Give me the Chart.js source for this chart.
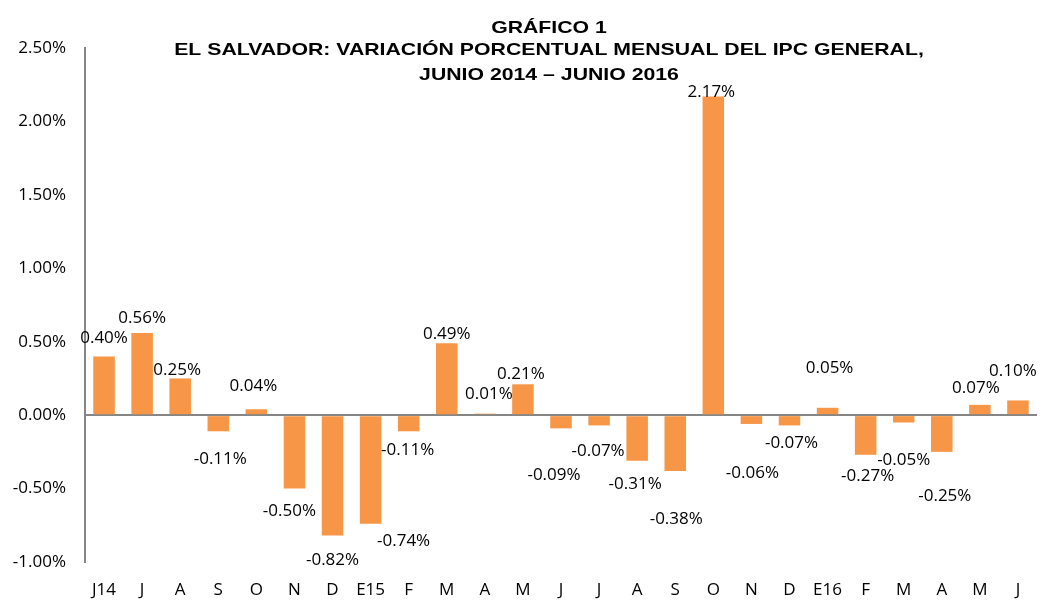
<!DOCTYPE html>
<html lang="es">
<head>
<meta charset="utf-8">
<title>Gráfico 1 - IPC El Salvador</title>
<script src="https://cdn.jsdelivr.net/npm/chart.js@4.4.1/dist/chart.umd.min.js"></script>
<style>
    html, body { margin: 0; padding: 0; background: #fff; }
    .chart-box { width: 1045px; height: 603px; position: relative; }
</style>
</head>
<body>
<div class="chart-box">
    <canvas id="ipcChart"></canvas>
</div>
<script>
// datos: variación mensual del IPC (%), junio 2014 - junio 2016
const meses = ['J14', 'J', 'A', 'S', 'O', 'N', 'D', 'E15', 'F', 'M', 'A', 'M', 'J',
    'J', 'A', 'S', 'O', 'N', 'D', 'E16', 'F', 'M', 'A', 'M', 'J'];
const variacion = [0.40, 0.56, 0.25, -0.11, 0.04, -0.50, -0.82, -0.74, -0.11, 0.49, 0.01, 0.21, -0.09,
    -0.07, -0.31, -0.38, 2.17, -0.06, -0.07, 0.05, -0.27, -0.05, -0.25, 0.07, 0.10];
const yTicks = [-1.0, -0.5, 0.0, 0.5, 1.0, 1.5, 2.0, 2.5];
const titulo = ['GRÁFICO 1',
    'EL SALVADOR: VARIACIÓN PORCENTUAL MENSUAL DEL IPC GENERAL,',
    'JUNIO 2014 – JUNIO 2016'];

// ajuste manual de las etiquetas (px desde el extremo de la barra), como en el original
const labelGap = [19, 16, 9, 27, 24, 22, 24, 16, 18, 10, 21, 11, 46,
    25, 22, 47, 5, 48, 17, 41, 20, 37, 43, 18, 30];
const labelShift = [0, 0, -3, 2, -3, -5, 0, 33, -1, 0, 4, -2, -7,
    -1, -2, 1, -2, 1, 2, 2, 2, 0, 3, -4, -5];

const fmtPct = (v) => v.toFixed(2) + '%';
const numFont = { family: "'Open Sans', sans-serif", size: 17 };

// etiquetas de datos
const barLabels = {
    id: 'barLabels',
    afterDatasetsDraw(chart) {
        const ctx = chart.ctx;
        const meta = chart.getDatasetMeta(0);
        ctx.save();
        ctx.font = "17px 'Open Sans', sans-serif";
        ctx.fillStyle = '#000';
        ctx.textAlign = 'center';
        ctx.textBaseline = 'middle';
        meta.data.forEach((bar, i) => {
            const v = variacion[i];
            const cy = v >= 0 ? bar.y - labelGap[i] : bar.y + labelGap[i];
            ctx.fillText(fmtPct(v), bar.x + labelShift[i], cy + 1);
        });
        ctx.restore();
    }
};

// título (Arial negrita ensanchado como en el original)
const tituloPlugin = {
    id: 'tituloPlugin',
    afterDraw(chart) {
        const ctx = chart.ctx;
        const baselines = [33, 55, 80];
        ctx.save();
        ctx.font = "bold 17px 'Liberation Sans', Arial, sans-serif";
        ctx.fillStyle = '#000';
        ctx.textAlign = 'center';
        ctx.textBaseline = 'alphabetic';
        titulo.forEach((linea, i) => {
            ctx.save();
            ctx.translate(549, baselines[i]);
            ctx.scale(1.25, 1);
            ctx.fillText(linea, 0, 0);
            ctx.restore();
        });
        ctx.restore();
    }
};

new Chart(document.getElementById('ipcChart'), {
    type: 'bar',
    data: {
        labels: meses,
        datasets: [{
            data: variacion,
            backgroundColor: '#F79646',
            borderWidth: 0,
            barPercentage: 0.565,
            categoryPercentage: 1.0
        }]
    },
    options: {
        responsive: true,
        maintainAspectRatio: false,
        animation: false,
        layout: { padding: { left: 11, right: 8, top: 48, bottom: 3 } },
        plugins: {
            legend: { display: false },
            tooltip: { enabled: false },
            title: { display: false }
        },
        scales: {
            x: {
                grid: { display: false, drawTicks: false },
                border: { display: false },
                ticks: { color: '#000', font: numFont, padding: 18, maxRotation: 0, autoSkip: false },
                afterFit: (axis) => { axis.height = 38; }
            },
            y: {
                z: 1, // la línea del cero pasa por encima de las barras
                min: yTicks[0],
                max: yTicks[yTicks.length - 1],
                afterBuildTicks: (axis) => { axis.ticks = yTicks.map(v => ({ value: v })); },
                afterFit: (axis) => { axis.width = 74; },
                grid: {
                    drawTicks: false,
                    lineWidth: 2,
                    color: (c) => (c.tick && c.tick.value === 0) ? '#868686' : 'rgba(0,0,0,0)'
                },
                border: { display: true, color: '#868686', width: 2 },
                ticks: { color: '#000', font: numFont, padding: 19, callback: (v) => fmtPct(v) }
            }
        }
    },
    plugins: [barLabels, tituloPlugin]
});
</script>
</body>
</html>
